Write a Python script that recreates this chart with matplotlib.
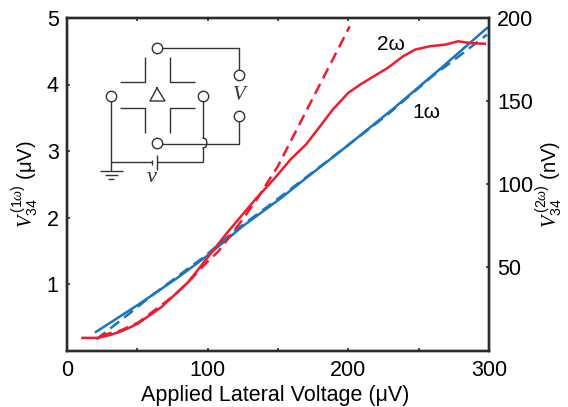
import matplotlib
matplotlib.use("Agg")
import matplotlib.pyplot as plt

plt.rcParams['font.family'] = ['Liberation Sans', 'DejaVu Sans']
plt.rcParams['mathtext.fontset'] = 'custom'
plt.rcParams['mathtext.rm'] = 'Liberation Sans'
plt.rcParams['mathtext.it'] = 'Liberation Serif:italic'
plt.rcParams['mathtext.fallback'] = 'stix'

# 1 omega, left axis
x_blue = [20.6, 50, 79, 100, 125, 152, 168, 200, 231, 265, 298.6]
y_blue = [0.28, 0.68, 1.1, 1.43, 1.87, 2.29, 2.56, 3.09, 3.62, 4.23, 4.85]
x_blue_fit = [21, 47, 58, 84, 97, 118, 143, 179, 203, 228, 260, 274, 298.6]
y_blue_fit = [0.17, 0.6, 0.79, 1.2, 1.4, 1.78, 2.17, 2.75, 3.14, 3.55, 4.13, 4.35, 4.75]

# 2 omega, right axis
x_red = [11, 22, 31, 40, 50, 67, 86, 101, 114, 134, 147, 159, 170, 180, 189, 200, 208.5,
         228, 239, 247.5, 258, 269, 278, 286, 297]
y_red = [7.6, 7.6, 9.4, 12, 16, 26, 41, 57, 71, 91, 103, 115, 124, 135, 145, 155, 160,
         170, 177, 181, 183, 184, 186, 185, 184.5]
x_red_fit = [24, 38, 51, 76, 86, 97, 108, 125, 135, 150, 201]
y_red_fit = [9, 12, 17, 33, 41, 51, 60, 79, 91, 111, 195]

xticks = [0, 100, 200, 300]
xticks_minor = [50, 150, 250]
yticks = [1, 2, 3, 4, 5]
y2ticks = [50, 100, 150, 200]

BLUE = '#1a75bc'
RED = '#ee1c2e'
DARK = '#2b2b2b'
W, H = 568, 407

fig = plt.figure(figsize=(W / 100, H / 100), dpi=100)
ax = fig.add_axes([67 / W, 1 - 350.5 / H, 422 / W, 332.5 / H])
ax2 = ax.twinx()

ax.plot(x_blue_fit, y_blue_fit, color=BLUE, lw=1.8, ls=(0, (4.5, 2.5)))
ax.plot(x_blue, y_blue, color=BLUE, lw=1.8)
ax2.plot(x_red_fit, y_red_fit, color=RED, lw=1.8, ls=(0, (4.5, 2.5)))
ax2.plot(x_red, y_red, color=RED, lw=1.8)

ax.set_xlim(0, 300)
ax.set_ylim(0, 5)
ax2.set_ylim(0, 200)
ax.set_xticks(xticks)
ax.set_xticks(xticks_minor, minor=True)
ax.set_yticks(yticks)
ax2.set_yticks(y2ticks)
ax.tick_params(axis='x', which='both', direction='in', top=True, length=2.5, width=1.2,
               labelsize=15.5, pad=7, color=DARK)
ax.tick_params(axis='y', direction='in', length=2.5, width=1.2, labelsize=15.5, pad=6, color=DARK)
ax2.tick_params(axis='y', direction='in', length=2.5, width=1.2, labelsize=15.5, pad=6, color=DARK)
for a in (ax, ax2):
    for spine in a.spines.values():
        spine.set_linewidth(1.7)
        spine.set_color(DARK)

ax.set_xlabel('Applied Lateral Voltage (\u03bcV)', fontsize=15.5, labelpad=3, x=0.4925)
fig.text(25 / W, 1 - 184 / H, r'$V_{34}^{\,(1\omega)}$ ($\mathrm{\mu}$V)', fontsize=14.5,
         rotation=90, ha='center', va='center')
fig.text(549 / W, 1 - 184 / H, r'$V_{34}^{\,(2\omega)}$ (nV)', fontsize=14.5,
         rotation=90, ha='center', va='center')
fig.text(377 / W, 1 - 45 / H, '2\u03c9', fontsize=15, ha='left', va='center')
fig.text(412 / W, 1 - 113 / H, '1\u03c9', fontsize=15, ha='left', va='center')

# circuit schematic drawn in image pixels
sch = fig.add_axes([0, 0, 1, 1], facecolor='none')
sch.set_xlim(0, W)
sch.set_ylim(H, 0)
sch.axis('off')
wires = [
    ([157, 239, 239], [48, 48, 75]),
    ([239, 239, 157], [116, 144, 144]),
    ([111, 111], [96, 171]),
    ([203, 203], [96, 138]),
    ([203, 203], [148, 162]),
    ([111, 152], [162, 162]),
    ([157, 203], [162, 162]),
    ([100, 123], [171, 171]),
    ([105, 118], [175, 175]),
    ([108, 114], [179, 179]),
    ([120, 145, 145], [82, 82, 57]),
    ([170, 170, 195], [57, 82, 82]),
    ([120, 145, 145], [108, 108, 133]),
    ([170, 170, 195], [133, 108, 108]),
    ([152, 152], [160, 165]),
    ([157, 157], [155, 170]),
]
for wx, wy in wires:
    sch.plot(wx, wy, color='#333333', lw=1.0, solid_capstyle='butt')
sch.plot([157, 150, 165, 157], [88, 101, 101, 88], color='#333333', lw=1.0)
arc_x = [203, 206, 207, 206, 203]
arc_y = [138, 139, 143, 147, 148]
sch.plot(arc_x, arc_y, color='#333333', lw=1.0)
node_x = [157, 111, 203, 157, 239, 239]
node_y = [48, 96, 96, 143, 75, 116]
sch.plot(node_x, node_y, 'o', ms=7.5, mfc='white', mec='#333333', mew=1.0, ls='none')
sch.text(239, 95, 'V', fontsize=15, family='Liberation Serif', style='italic', color='#333333',
         ha='center', va='center')
sch.text(152, 177, 'v', fontsize=16, family='Liberation Serif', style='italic', color='#333333',
         ha='center', va='center')

fig.savefig('out.png', dpi=100)
